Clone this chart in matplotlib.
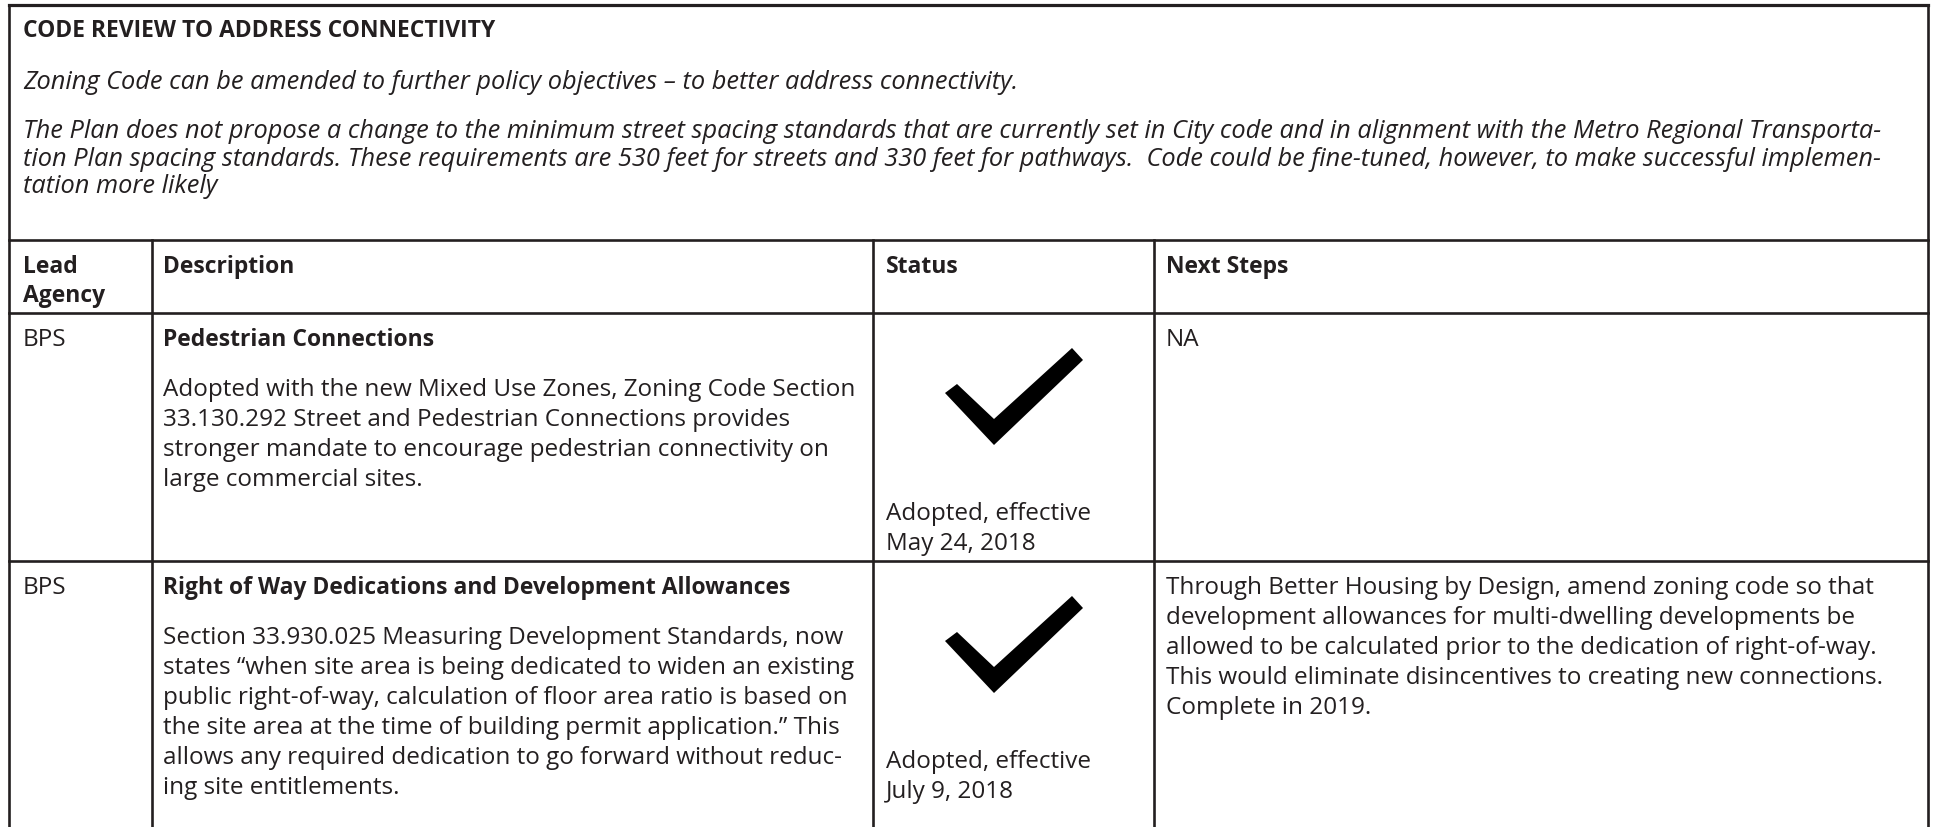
import matplotlib.pyplot as plt
from matplotlib.patches import Polygon

# Table content
title = "CODE REVIEW TO ADDRESS CONNECTIVITY"
intro = "Zoning Code can be amended to further policy objectives – to better address connectivity."
plan_note = [
    "The Plan does not propose a change to the minimum street spacing standards that are currently set in City code and in alignment with the Metro Regional Transporta-",
    "tion Plan spacing standards. These requirements are 530 feet for streets and 330 feet for pathways.  Code could be fine-tuned, however, to make successful implemen-",
    "tation more likely",
]
headers = [["Lead", "Agency"], ["Description"], ["Status"], ["Next Steps"]]
agencies = ["BPS", "BPS"]
item_titles = ["Pedestrian Connections",
               "Right of Way Dedications and Development Allowances"]
item_text = [
    ["Adopted with the new Mixed Use Zones, Zoning Code Section",
     "33.130.292 Street and Pedestrian Connections provides",
     "stronger mandate to encourage pedestrian connectivity on",
     "large commercial sites."],
    ["Section 33.930.025 Measuring Development Standards, now",
     "states \u201cwhen site area is being dedicated to widen an existing",
     "public right-of-way, calculation of floor area ratio is based on",
     "the site area at the time of building permit application.\u201d This",
     "allows any required dedication to go forward without reduc-",
     "ing site entitlements."],
]
status = [["Adopted, effective", "May 24, 2018"],
          ["Adopted, effective", "July 9, 2018"]]
next_steps = [
    ["NA"],
    ["Through Better Housing by Design, amend zoning code so that",
     "development allowances for multi-dwelling developments be",
     "allowed to be calculated prior to the dedication of right-of-way.",
     "This would eliminate disincentives to creating new connections.",
     "Complete in 2019."],
]

# layout in pixels
W, H = 1935, 828
col_x = [9, 152, 873, 1154, 1928]
top_y = 6
box_bottom = 241
header_bottom = 314
row_tops = [314, 562]
pitch = 30
ink = "#231f20"
font = "Open Sans"
fs_regular, fs_bold, fs_italic = 17.5, 16.5, 18.3

fig = plt.figure(figsize=(W / 100, H / 100), dpi=100)
ax = fig.add_axes([0, 0, 1, 1])
ax.set_xlim(0, W)
ax.set_ylim(H, 0)
ax.axis("off")

lw = 1.9
# frame
ax.plot([col_x[0], col_x[-1]], [top_y, top_y], color=ink, lw=2.3, solid_capstyle="projecting")
for x in (col_x[0], col_x[-1]):
    ax.plot([x, x], [top_y, H + 5], color=ink, lw=lw)
for y in (box_bottom, header_bottom, row_tops[1]):
    ax.plot([col_x[0], col_x[-1]], [y, y], color=ink, lw=lw)
for x in col_x[1:-1]:
    ax.plot([x, x], [box_bottom, H + 5], color=ink, lw=lw)


def put(x, y, s, weight="normal", style="normal"):
    size = fs_bold if weight == "bold" else (fs_italic if style == "italic" else fs_regular)
    ax.text(x, y, s, fontsize=size, family=font, weight=weight, style=style,
            color=ink, va="baseline", ha="left")


# top box
put(23, 37, title, weight="bold")
put(23, 89, intro, style="italic")
for i, line in enumerate(plan_note):
    put(23, 138 + i * 27.5, line, style="italic")

# header row
pad = [14, 11, 13, 12]
for c, lines in enumerate(headers):
    for i, line in enumerate(lines):
        put(col_x[c] + pad[c], box_bottom + 32 + i * 29, line, weight="bold")

# check mark template, relative to the status cell centre and row top
check = [(-68.5, 80), (-56.5, 71), (-19.5, 106), (58.5, 35), (69.5, 47), (-19.5, 132)]

for r, top in enumerate(row_tops):
    put(col_x[0] + pad[0], top + 32, agencies[r])
    put(col_x[1] + pad[1], top + 32, item_titles[r], weight="bold")
    for i, line in enumerate(item_text[r]):
        put(col_x[1] + pad[1], top + 82 + i * pitch, line)
    for i, line in enumerate(status[r]):
        put(col_x[2] + pad[2], top + 206 + i * pitch, line)
    for i, line in enumerate(next_steps[r]):
        put(col_x[3] + pad[3], top + 32 + i * pitch, line)
    cx = (col_x[2] + col_x[3]) / 2
    ax.add_patch(Polygon([(cx + dx, top + dy) for dx, dy in check],
                         closed=True, facecolor="black", edgecolor="none"))

fig.savefig("out.png", dpi=100)
